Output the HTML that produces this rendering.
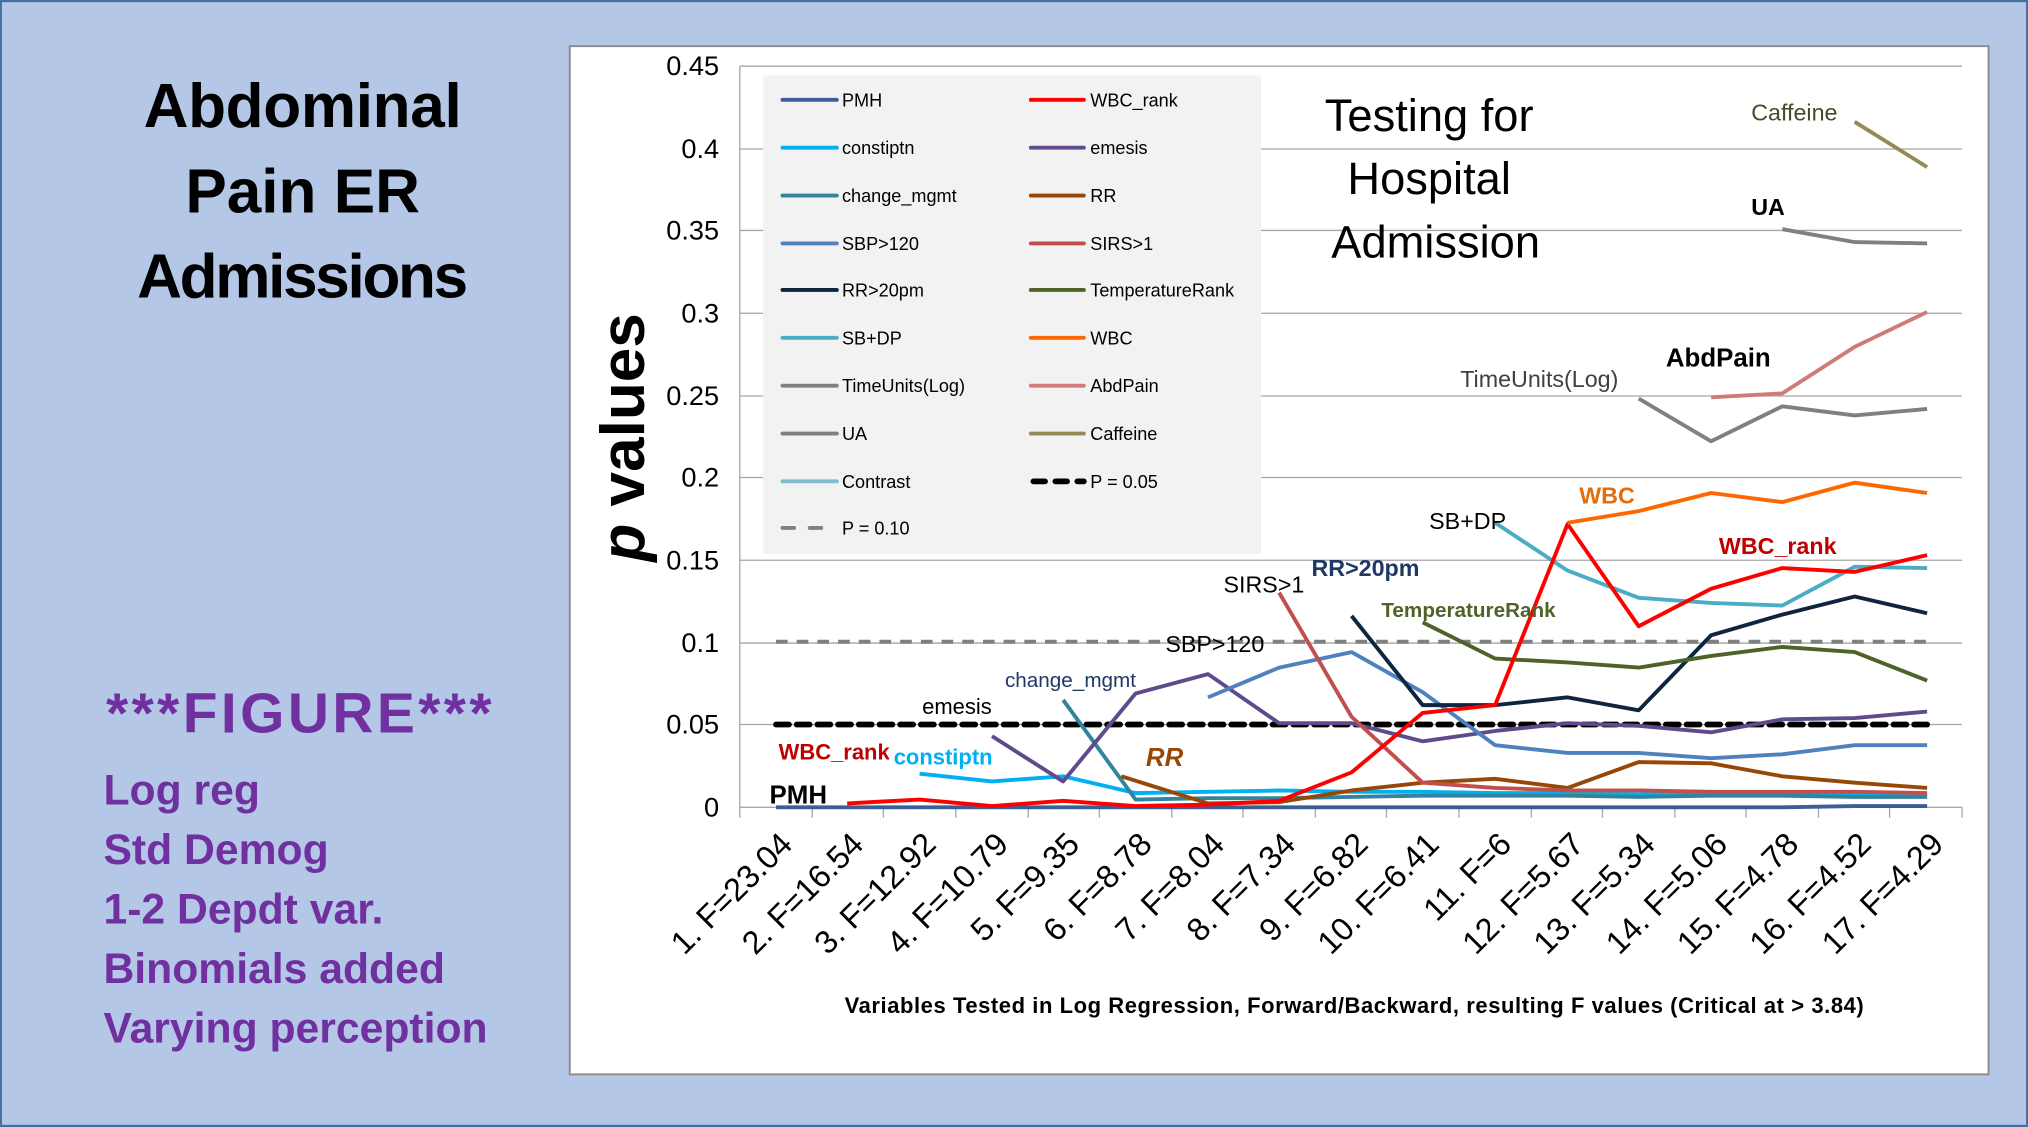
<!DOCTYPE html>
<html><head><meta charset="utf-8"><style>
html,body{margin:0;padding:0;background:#b4c7e7;}
svg{display:block}
text{font-family:"Liberation Sans",sans-serif}
</style></head><body>
<svg width="2028" height="1127" viewBox="0 0 1568 871" xmlns="http://www.w3.org/2000/svg">
<rect x="0.5" y="0.5" width="1567" height="870" fill="#b4c7e7" stroke="#41719c" stroke-width="2"/>
<g font-weight="bold" text-anchor="middle" font-size="48" fill="#000">
<text x="234" y="98" textLength="246">Abdominal</text>
<text x="234" y="164">Pain ER</text>
<text x="234" y="230" textLength="256">Admissions</text>
</g>
<g font-weight="bold" fill="#7030a0">
<text x="82" y="566" font-size="44" textLength="298">***FIGURE***</text>
<text x="80" y="622" font-size="33">Log reg</text>
<text x="80" y="668" font-size="33">Std Demog</text>
<text x="80" y="714" font-size="33">1-2 Depdt var.</text>
<text x="80" y="760" font-size="33">Binomials added</text>
<text x="80" y="806" font-size="33">Varying perception</text>
</g>
<rect x="440.5" y="35.5" width="1097" height="795" fill="#fff" stroke="#8c8c8c" stroke-width="1.5"/>
<g stroke="#a6a6a6" stroke-width="1">
<line x1="572" y1="51" x2="1517" y2="51"/><line x1="572" y1="115" x2="1517" y2="115"/>
<line x1="572" y1="178" x2="1517" y2="178"/><line x1="572" y1="242" x2="1517" y2="242"/>
<line x1="572" y1="306" x2="1517" y2="306"/><line x1="572" y1="369" x2="1517" y2="369"/>
<line x1="572" y1="433" x2="1517" y2="433"/><line x1="572" y1="497" x2="1517" y2="497"/>
<line x1="572" y1="560" x2="1517" y2="560"/>
</g>
<line x1="572" y1="624" x2="1517" y2="624" stroke="#a6a6a6"/>
<line x1="572" y1="51" x2="572" y2="632" stroke="#a6a6a6"/>
<g stroke="#a6a6a6">
<line x1="628" y1="624" x2="628" y2="632"/><line x1="683" y1="624" x2="683" y2="632"/><line x1="739" y1="624" x2="739" y2="632"/><line x1="795" y1="624" x2="795" y2="632"/><line x1="850" y1="624" x2="850" y2="632"/><line x1="906" y1="624" x2="906" y2="632"/><line x1="961" y1="624" x2="961" y2="632"/><line x1="1017" y1="624" x2="1017" y2="632"/><line x1="1072" y1="624" x2="1072" y2="632"/><line x1="1128" y1="624" x2="1128" y2="632"/><line x1="1184" y1="624" x2="1184" y2="632"/><line x1="1239" y1="624" x2="1239" y2="632"/><line x1="1295" y1="624" x2="1295" y2="632"/><line x1="1350" y1="624" x2="1350" y2="632"/><line x1="1406" y1="624" x2="1406" y2="632"/><line x1="1461" y1="624" x2="1461" y2="632"/><line x1="1517" y1="624" x2="1517" y2="632"/>
</g>
<g font-size="21" text-anchor="end" fill="#000">
<text x="556" y="58">0.45</text><text x="556" y="122">0.4</text><text x="556" y="185">0.35</text>
<text x="556" y="249">0.3</text><text x="556" y="313">0.25</text><text x="556" y="376">0.2</text>
<text x="556" y="440">0.15</text><text x="556" y="504">0.1</text><text x="556" y="567">0.05</text>
<text x="556" y="631">0</text>
</g>
<text transform="translate(498,338) rotate(-90)" text-anchor="middle" font-size="48" font-weight="bold"><tspan font-style="italic">p</tspan> values</text>
<g font-size="25" text-anchor="end" fill="#000">
<text transform="translate(614,654) rotate(-45)">1.  F=23.04</text>
<text transform="translate(669,654) rotate(-45)">2.  F=16.54</text>
<text transform="translate(725,654) rotate(-45)">3.  F=12.92</text>
<text transform="translate(781,654) rotate(-45)">4.  F=10.79</text>
<text transform="translate(836,654) rotate(-45)">5.  F=9.35</text>
<text transform="translate(892,654) rotate(-45)">6.  F=8.78</text>
<text transform="translate(948,654) rotate(-45)">7.  F=8.04</text>
<text transform="translate(1003,654) rotate(-45)">8.  F=7.34</text>
<text transform="translate(1059,654) rotate(-45)">9.  F=6.82</text>
<text transform="translate(1114,654) rotate(-45)">10.  F=6.41</text>
<text transform="translate(1170,654) rotate(-45)">11.  F=6</text>
<text transform="translate(1226,654) rotate(-45)">12.  F=5.67</text>
<text transform="translate(1281,654) rotate(-45)">13.  F=5.34</text>
<text transform="translate(1337,654) rotate(-45)">14.  F=5.06</text>
<text transform="translate(1392,654) rotate(-45)">15.  F=4.78</text>
<text transform="translate(1448,654) rotate(-45)">16.  F=4.52</text>
<text transform="translate(1504,654) rotate(-45)">17.  F=4.29</text>
</g>
<text x="1047" y="783" text-anchor="middle" font-size="17" font-weight="bold" textLength="788">Variables Tested in Log Regression, Forward/Backward, resulting F values (Critical at &gt; 3.84)</text>
<line x1="600" y1="496" x2="1490" y2="496" stroke="#808080" stroke-width="3" stroke-dasharray="9,7"/>
<line x1="600" y1="560" x2="1490" y2="560" stroke="#000" stroke-width="4.5" stroke-dasharray="10,6" stroke-linecap="round"/>
<g fill="none" stroke-width="3" stroke-linejoin="round">
<polyline stroke="#3b5e96" points="600,624 655,624 711,624 767,624 822,624 878,624 934,624 989,624 1045,624 1100,624 1156,624 1212,624 1267,624 1323,624 1378,624 1434,623 1490,623"/>
<polyline stroke="#00b0f0" points="711,598 767,604 822,600 878,613 934,612 989,611 1045,612 1100,612 1156,613 1212,613 1267,614 1323,614 1378,614 1434,614 1490,615"/>
<polyline stroke="#31849b" points="822,541 878,618 934,617 989,617 1045,616 1100,615 1156,615 1212,615 1267,616 1323,615 1378,615 1434,616 1490,616"/>
<polyline stroke="#5f4b8b" points="767,569 822,604 878,536 934,521 989,559 1045,559 1100,573 1156,565 1212,559 1267,561 1323,566 1378,556 1434,555 1490,550"/>
<polyline stroke="#974706" points="867,600 934,621 989,620 1045,611 1100,605 1156,602 1212,609 1267,589 1323,590 1378,600 1434,605 1490,609"/>
<polyline stroke="#4f81bd" points="934,539 989,516 1045,504 1100,535 1156,576 1212,582 1267,582 1323,586 1378,583 1434,576 1490,576"/>
<polyline stroke="#c0504d" points="989,458 1045,554 1100,605 1156,609 1212,611 1267,611 1323,612 1378,612 1434,612 1490,613"/>
<polyline stroke="#0f243e" points="1045,476 1100,545 1156,545 1212,539 1267,549 1323,491 1378,475 1434,461 1490,474"/>
<polyline stroke="#4f6228" points="1100,481 1156,509 1212,512 1267,516 1323,507 1378,500 1434,504 1490,526"/>
<polyline stroke="#4bacc6" points="1156,404 1212,441 1267,462 1323,466 1378,468 1434,438 1490,439"/>
<polyline stroke="#ff0000" points="655,621 711,618 767,623 822,619 878,623 934,622 989,619 1045,597 1100,551 1156,545 1212,405 1267,484 1323,455 1378,439 1434,442 1490,429"/>
<polyline stroke="#ff6600" points="1212,404 1267,395 1323,381 1378,388 1434,373 1490,381"/>
<polyline stroke="#808080" points="1267,308 1323,341 1378,314 1434,321 1490,316"/>
<polyline stroke="#d07a7a" points="1323,307 1378,304 1434,268 1490,241"/>
<polyline stroke="#808080" points="1378,177 1434,187 1490,188"/>
<polyline stroke="#948a54" points="1434,94 1490,129"/>
</g>
<rect x="590" y="58" width="385" height="370" fill="#f2f2f2"/>
<g stroke-width="3" stroke-linecap="round">
<line x1="605" y1="77" x2="647" y2="77" stroke="#3b5e96"/>
<line x1="605" y1="114" x2="647" y2="114" stroke="#00b0f0"/>
<line x1="605" y1="151" x2="647" y2="151" stroke="#31849b"/>
<line x1="605" y1="188" x2="647" y2="188" stroke="#4f81bd"/>
<line x1="605" y1="224" x2="647" y2="224" stroke="#0f243e"/>
<line x1="605" y1="261" x2="647" y2="261" stroke="#4bacc6"/>
<line x1="605" y1="298" x2="647" y2="298" stroke="#808080"/>
<line x1="605" y1="335" x2="647" y2="335" stroke="#808080"/>
<line x1="605" y1="372" x2="647" y2="372" stroke="#7fbcd2"/>
<line x1="605" y1="408" x2="647" y2="408" stroke="#808080" stroke-dasharray="9,12"/>
<line x1="797" y1="77" x2="838" y2="77" stroke="#ff0000"/>
<line x1="797" y1="114" x2="838" y2="114" stroke="#5f4b8b"/>
<line x1="797" y1="151" x2="838" y2="151" stroke="#974706"/>
<line x1="797" y1="188" x2="838" y2="188" stroke="#c0504d"/>
<line x1="797" y1="224" x2="838" y2="224" stroke="#4f6228"/>
<line x1="797" y1="261" x2="838" y2="261" stroke="#ff6600"/>
<line x1="797" y1="298" x2="838" y2="298" stroke="#d07a7a"/>
<line x1="797" y1="335" x2="838" y2="335" stroke="#948a54"/>
<line x1="799" y1="372" x2="838" y2="372" stroke="#000" stroke-width="4.5" stroke-dasharray="9,8"/>
</g>
<g font-size="14" fill="#000">
<text x="651" y="82">PMH</text><text x="651" y="119">constiptn</text><text x="651" y="156">change_mgmt</text>
<text x="651" y="193">SBP&gt;120</text><text x="651" y="229">RR&gt;20pm</text><text x="651" y="266">SB+DP</text>
<text x="651" y="303">TimeUnits(Log)</text><text x="651" y="340">UA</text><text x="651" y="377">Contrast</text>
<text x="651" y="413">P = 0.10</text>
<text x="843" y="82">WBC_rank</text><text x="843" y="119">emesis</text><text x="843" y="156">RR</text>
<text x="843" y="193">SIRS&gt;1</text><text x="843" y="229">TemperatureRank</text><text x="843" y="266">WBC</text>
<text x="843" y="303">AbdPain</text><text x="843" y="340">Caffeine</text><text x="843" y="377">P = 0.05</text>
</g>
<g font-size="35" text-anchor="middle" fill="#000">
<text x="1105" y="101">Testing for</text>
<text x="1105" y="150">Hospital</text>
<text x="1110" y="199">Admission</text>
</g>
<g font-size="18">
<text x="1354" y="93" fill="#4a4a2a">Caffeine</text>
<text x="1354" y="166" font-weight="bold" fill="#000">UA</text>
<text x="1288" y="283" font-weight="bold" fill="#000" font-size="20">AbdPain</text>
<text x="1129" y="299" fill="#404040">TimeUnits(Log)</text>
<text x="1221" y="389" font-weight="bold" fill="#e46c0a">WBC</text>
<text x="1105" y="409" fill="#000">SB+DP</text>
<text x="1329" y="428" font-weight="bold" fill="#c00000">WBC_rank</text>
<text x="1014" y="445" font-weight="bold" fill="#1f3864">RR&gt;20pm</text>
<text x="946" y="458" fill="#000">SIRS&gt;1</text>
<text x="1068" y="477" font-weight="bold" fill="#4f6228" font-size="16">TemperatureRank</text>
<text x="901" y="504" fill="#000">SBP&gt;120</text>
<text x="777" y="531" fill="#1f3864" font-size="16">change_mgmt</text>
<text x="713" y="552" fill="#000" font-size="17">emesis</text>
<text x="602" y="587" font-weight="bold" fill="#c00000" font-size="17">WBC_rank</text>
<text x="691" y="591" font-weight="bold" fill="#00b0f0" font-size="17">constiptn</text>
<text x="886" y="592" font-weight="bold" font-style="italic" fill="#974706" font-size="20">RR</text>
<text x="595" y="621" font-weight="bold" fill="#000" font-size="20">PMH</text>
</g>
</svg>
</body></html>
